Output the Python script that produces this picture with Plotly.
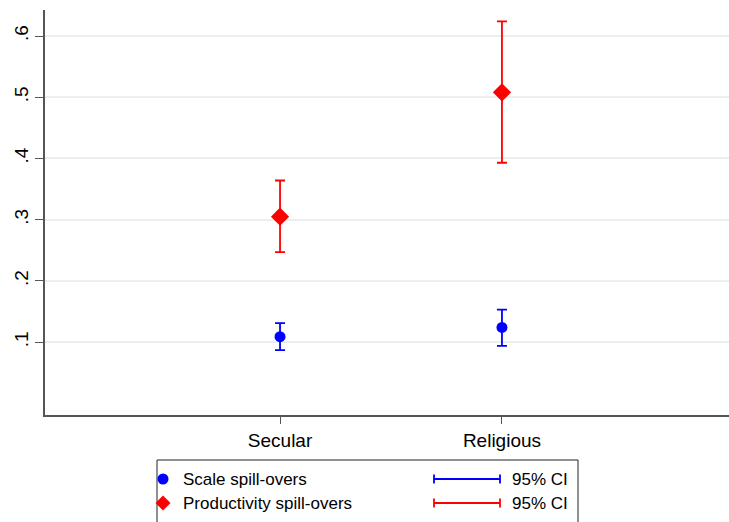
import plotly.graph_objects as go

categories = ["Secular", "Religious"]
cat_pos = [1, 2]
scale_est = [0.109, 0.124]
scale_lo = [0.087, 0.094]
scale_hi = [0.131, 0.153]
prod_est = [0.305, 0.508]
prod_lo = [0.247, 0.393]
prod_hi = [0.364, 0.624]
y_ticks = [0.1, 0.2, 0.3, 0.4, 0.5, 0.6]
y_ticklabels = [".1", ".2", ".3", ".4", ".5", ".6"]
legend_names = ["Scale spill-overs", "Productivity spill-overs"]
ci_label = "95% CI"

BLUE = "#0000ff"
RED = "#ff0000"
FONT = "Arial, Liberation Sans, sans-serif"

fig = go.Figure()
fig.add_trace(go.Scatter(
    x=cat_pos, y=scale_est, mode="markers", name=legend_names[0],
    marker=dict(symbol="circle", size=11, color=BLUE),
    error_y=dict(type="data", symmetric=False,
                 array=[h - e for h, e in zip(scale_hi, scale_est)],
                 arrayminus=[e - l for e, l in zip(scale_est, scale_lo)],
                 color=BLUE, thickness=1.8, width=5),
    showlegend=False))
fig.add_trace(go.Scatter(
    x=cat_pos, y=prod_est, mode="markers", name=legend_names[1],
    marker=dict(symbol="diamond", size=14, color=RED),
    error_y=dict(type="data", symmetric=False,
                 array=[h - e for h, e in zip(prod_hi, prod_est)],
                 arrayminus=[e - l for e, l in zip(prod_est, prod_lo)],
                 color=RED, thickness=1.8, width=5),
    showlegend=False))

# plot area: x 45..729 px, y 10..415 px
W, H = 684.0, 405.0
def px(x):
    return (x - 45) / W
def py(y):
    return (415 - y) / H

shapes = []
# legend box
shapes.append(dict(type="rect", xref="paper", yref="paper",
                   x0=px(157), x1=px(578), y0=py(545), y1=py(460),
                   line=dict(color="#222222", width=1), fillcolor="rgba(0,0,0,0)"))
# legend markers
rows = [479, 503]
r = 5.5
shapes.append(dict(type="circle", xref="paper", yref="paper",
                   x0=px(163 - r), x1=px(163 + r), y0=py(rows[0] + r), y1=py(rows[0] - r),
                   fillcolor=BLUE, line=dict(color=BLUE, width=0)))
d = 7.5
cx, cy = 163, rows[1]
shapes.append(dict(type="path", xref="paper", yref="paper",
                   path=f"M {px(cx)} {py(cy - d)} L {px(cx + d)} {py(cy)} L {px(cx)} {py(cy + d)} L {px(cx - d)} {py(cy)} Z",
                   fillcolor=RED, line=dict(color=RED, width=0)))
for rowy, col in zip(rows, [BLUE, RED]):
    shapes.append(dict(type="line", xref="paper", yref="paper",
                       x0=px(434), x1=px(500), y0=py(rowy), y1=py(rowy),
                       line=dict(color=col, width=1.8)))
    for xx in (434, 500):
        shapes.append(dict(type="line", xref="paper", yref="paper",
                           x0=px(xx), x1=px(xx), y0=py(rowy - 4.5), y1=py(rowy + 4.5),
                           line=dict(color=col, width=1.8)))

annotations = []
for rowy, name in zip(rows, legend_names):
    annotations.append(dict(xref="paper", yref="paper", x=px(181), y=py(rowy),
                            text=name, showarrow=False, xanchor="left", yanchor="middle",
                            font=dict(size=17, color="#000000", family=FONT)))
    annotations.append(dict(xref="paper", yref="paper", x=px(510), y=py(rowy),
                            text=ci_label, showarrow=False, xanchor="left", yanchor="middle",
                            font=dict(size=17, color="#000000", family=FONT)))

fig.update_layout(
    width=729, height=522,
    margin=dict(l=45, r=0, t=10, b=107),
    paper_bgcolor="white", plot_bgcolor="white",
    font=dict(family=FONT, size=19, color="#000000"),
    shapes=shapes, annotations=annotations,
    showlegend=False,
)
fig.update_xaxes(
    range=[-0.059, 3.023], tickvals=cat_pos, ticktext=categories,
    showgrid=False, zeroline=False, showline=True, linecolor="#555555", linewidth=1.5,
    ticks="outside", ticklen=7, tickcolor="#555555", tickwidth=1.2,
    tickfont=dict(size=19, family=FONT, color="#000000"),
)
fig.update_yaxes(
    range=[-0.019, 0.6425], tickvals=y_ticks, ticktext=y_ticklabels,
    showgrid=True, gridcolor="#eaf0f2", gridwidth=1.5, zeroline=False,
    showline=True, linecolor="#555555", linewidth=1.5,
    ticks="outside", ticklen=8, tickcolor="#555555", tickwidth=1.2, tickangle=-90,
    tickfont=dict(size=19, family=FONT, color="#000000"),
)

fig.write_html(
    "out.html",
    config={"displayModeBar": False},
    post_script="document.body.style.margin='0';document.body.style.overflow='hidden';",
)
